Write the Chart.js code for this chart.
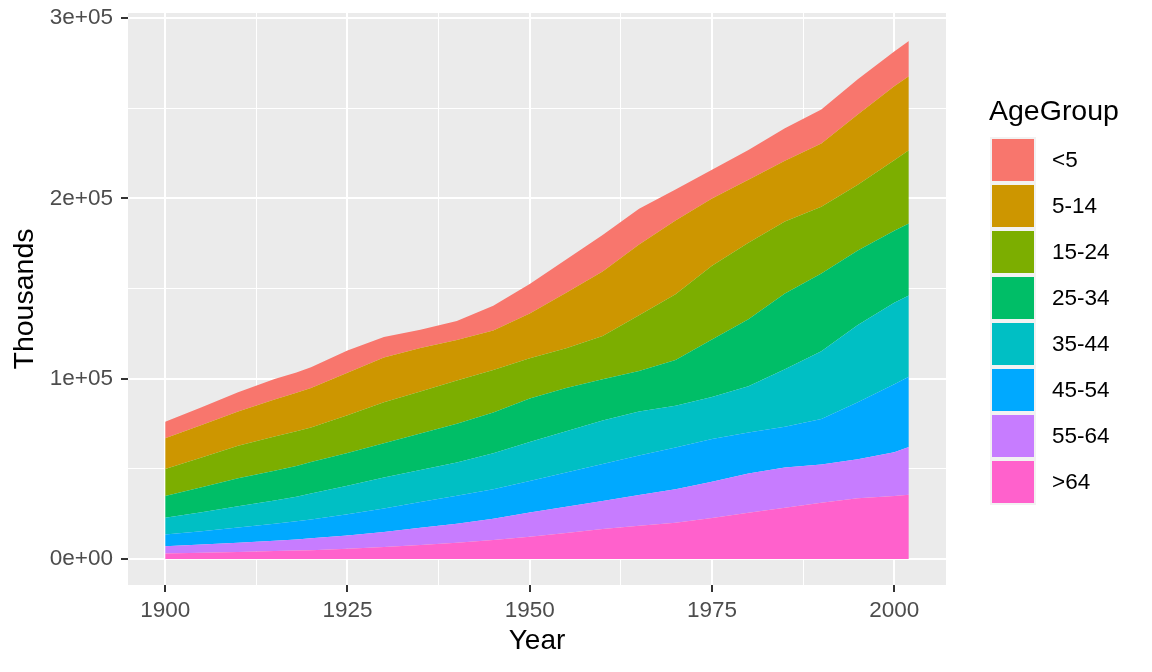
<!DOCTYPE html>
<html>
<head>
<meta charset="utf-8">
<script src="https://cdn.jsdelivr.net/npm/chart.js@4.4.1/dist/chart.umd.min.js"></script>
<style>
  html, body { margin: 0; padding: 0; background: #FFFFFF; }
  #wrap { position: relative; width: 1152px; height: 672px; overflow: hidden; }
  #c { position: absolute; left: 0; top: 0; }
  .lg { position: absolute; font-family: 'Liberation Sans', Arial, sans-serif; color: #000; white-space: nowrap; }
</style>
</head>
<body>
<div id="wrap">
  <canvas id="c" width="1152" height="672"></canvas>
</div>
<script>
// ---- data (thousands) ----
const years = [1900, 1905, 1910, 1915, 1918, 1920, 1925, 1930, 1935, 1940, 1945, 1950, 1955, 1960, 1965, 1970, 1975, 1980, 1985, 1990, 1995, 2000, 2002];
const ageGroups = ['<5', '5-14', '15-24', '25-34', '35-44', '45-54', '55-64', '>64'];
const under5  = [9181, 9900, 10631, 11400, 11200, 11573, 12280, 11444, 10170, 10542, 13600, 16410, 18566, 20341, 19824, 17166, 15900, 16451, 18037, 18856, 19532, 19176, 19609];
const age5_14 = [16966, 17950, 18942, 20500, 21400, 21900, 23500, 24800, 24100, 22431, 22000, 24800, 30700, 35735, 39300, 40900, 37400, 34942, 33600, 35095, 38900, 41078, 41000];
const age15_24 = [14951, 16600, 18145, 19000, 19200, 19100, 21000, 22700, 23300, 24034, 23500, 22300, 22000, 24020, 30900, 36500, 40800, 42487, 39900, 37013, 36500, 39184, 40700];
const age25_34 = [12161, 13800, 15483, 16500, 17000, 17500, 18200, 18954, 20200, 21446, 22700, 24100, 24000, 22818, 22500, 25300, 31900, 37082, 42100, 43176, 41300, 39892, 39900];
const age35_44 = [9273, 10500, 11806, 12900, 13700, 14300, 15700, 17199, 17800, 18422, 19900, 21600, 22900, 24081, 24400, 23088, 23300, 25635, 31900, 37579, 42800, 45149, 45000];
const age45_54 = [6437, 7400, 8440, 9400, 10000, 10500, 11800, 13018, 14300, 15555, 16300, 17500, 19000, 20485, 21800, 23220, 23800, 22800, 22500, 25223, 31700, 37678, 39000];
const age55_64 = [4026, 4550, 5056, 5800, 6200, 6549, 7400, 8397, 9500, 10584, 11900, 13400, 14500, 15572, 17100, 18590, 20100, 21703, 22300, 21148, 21600, 24275, 26500];
const over64  = [3099, 3500, 3950, 4400, 4700, 4933, 5700, 6634, 7800, 9019, 10500, 12400, 14500, 16675, 18450, 20107, 22700, 25707, 28500, 31242, 33700, 34992, 35600];
const seriesValues = [under5, age5_14, age15_24, age25_34, age35_44, age45_54, age55_64, over64];
const colors = ['#F8766D', '#CD9600', '#7CAE00', '#00BE67', '#00BFC4', '#00A9FF', '#C77CFF', '#FF61CC'];
const xTicks = [1900, 1912.5, 1925, 1937.5, 1950, 1962.5, 1975, 1987.5, 2000];
const yTicks = [0, 50000, 100000, 150000, 200000, 250000, 300000];
const yTickLabels = {0: '0e+00', 100000: '1e+05', 200000: '2e+05', 300000: '3e+05'};

const FONT = "'Liberation Sans', Arial, sans-serif";

// datasets: bottom (>64) first so stacking matches
const datasets = [];
for (let i = ageGroups.length - 1; i >= 0; i--) {
  datasets.push({
    label: ageGroups[i],
    data: years.map((y, k) => ({x: y, y: seriesValues[i][k]})),
    backgroundColor: colors[i],
    borderColor: colors[i],
    borderWidth: 0,
    pointRadius: 0,
    pointHoverRadius: 0,
    tension: 0,
    fill: datasets.length === 0 ? 'origin' : '-1'
  });
}

const panelBg = {
  id: 'panelBg',
  beforeDraw(chart) {
    const a = chart.chartArea, ctx = chart.ctx;
    ctx.save();
    ctx.fillStyle = '#EBEBEB';
    ctx.fillRect(a.left, a.top, a.right - a.left, a.bottom - a.top);
    ctx.restore();
  }
};

new Chart(document.getElementById('c'), {
  type: 'line',
  data: { datasets },
  plugins: [panelBg],
  options: {
    responsive: false,
    animation: false,
    devicePixelRatio: 1,
    layout: { padding: { left: 0, right: 206, top: 13, bottom: 0 } },
    plugins: { legend: { display: false }, tooltip: { enabled: false } },
    elements: { line: { borderWidth: 0 } },
    scales: {
      x: {
        type: 'linear',
        min: 1894.9,
        max: 2007.1,
        afterFit(s) { s.height = 87; s.paddingLeft = 0; s.paddingRight = 0; },
        afterBuildTicks(s) { s.ticks = xTicks.map(v => ({value: v})); },
        border: { display: false },
        grid: {
          color: '#FFFFFF',
          lineWidth: ctx => (ctx.tick && ctx.tick.value % 25 === 0) ? 2 : 1,
          drawTicks: true,
          tickLength: 7,
          tickWidth: 2,
          tickColor: ctx => (ctx.tick && ctx.tick.value % 25 === 0) ? '#333333' : 'rgba(0,0,0,0)'
        },
        ticks: {
          autoSkip: false,
          maxRotation: 0,
          minRotation: 0,
          padding: 5,
          color: '#4D4D4D',
          font: { family: FONT, size: 22.5 },
          callback: v => (v % 25 === 0) ? String(v) : ''
        },
        title: {
          display: true,
          text: 'Year',
          color: '#000000',
          font: { family: FONT, size: 28 },
          padding: { top: 0, bottom: 14 }
        }
      },
      y: {
        type: 'linear',
        stacked: true,
        min: -14400,
        max: 302800,
        afterFit(s) { s.width = 128; s.paddingTop = 0; s.paddingBottom = 0; },
        afterBuildTicks(s) { s.ticks = yTicks.map(v => ({value: v})); },
        border: { display: false },
        grid: {
          color: '#FFFFFF',
          lineWidth: ctx => (ctx.tick && ctx.tick.value % 100000 === 0) ? 2 : 1,
          drawTicks: true,
          tickLength: 7,
          tickWidth: 2,
          tickColor: ctx => (ctx.tick && ctx.tick.value % 100000 === 0) ? '#333333' : 'rgba(0,0,0,0)'
        },
        ticks: {
          autoSkip: false,
          padding: 8,
          color: '#4D4D4D',
          font: { family: FONT, size: 22.5 },
          callback: v => (yTickLabels[v] !== undefined) ? yTickLabels[v] : ''
        },
        title: {
          display: true,
          text: 'Thousands',
          color: '#000000',
          font: { family: FONT, size: 28.5 },
          padding: { top: 8, bottom: 0 }
        }
      }
    }
  }
});

// ---- legend (HTML text) ----
const wrap = document.getElementById('wrap');
function addDiv(style, text) {
  const d = document.createElement('div');
  d.className = 'lg';
  Object.assign(d.style, style);
  if (text !== undefined) d.textContent = text;
  wrap.appendChild(d);
  return d;
}
addDiv({left: '989px', top: '96px', fontSize: '28.5px', lineHeight: '28px'}, 'AgeGroup');
addDiv({left: '990px', top: '137px', width: '46px', height: (46 * ageGroups.length) + 'px', background: '#F2F2F2'});
ageGroups.forEach((g, i) => {
  addDiv({left: '992px', top: (139 + 46 * i) + 'px', width: '42px', height: '42px', background: colors[i]});
  addDiv({left: '1052px', top: (137 + 46 * i) + 'px', height: '46px', fontSize: '22.5px', lineHeight: '46px'}, g);
});
</script>
</body>
</html>
